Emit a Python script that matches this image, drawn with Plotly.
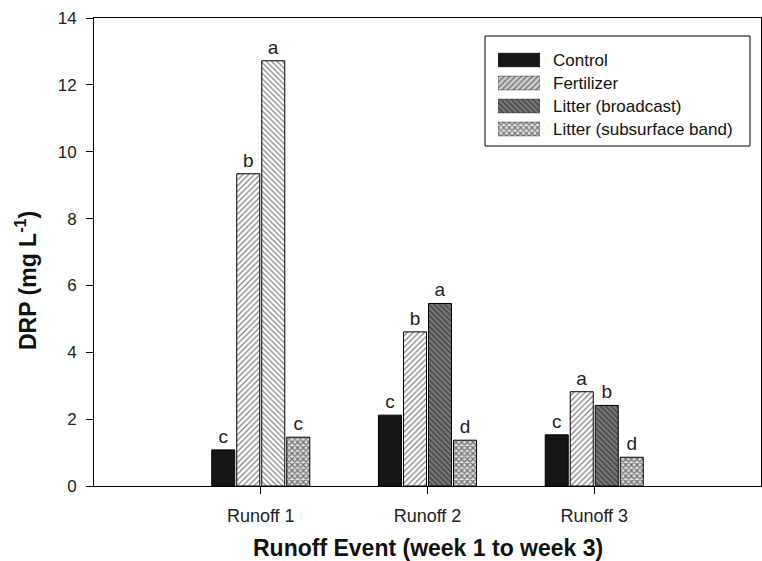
import plotly.graph_objects as go

# ---- data ----
events = ["Runoff 1", "Runoff 2", "Runoff 3"]
treatments = ["Control", "Fertilizer", "Litter (broadcast)", "Litter (subsurface band)"]
control = [1.08, 2.12, 1.53]
fertilizer = [9.34, 4.61, 2.82]
litter_broadcast = [12.72, 5.46, 2.41]
litter_subsurface = [1.46, 1.37, 0.86]
letters_control = ["c", "c", "c"]
letters_fertilizer = ["b", "b", "a"]
letters_broadcast = ["a", "a", "b"]
letters_subsurface = ["c", "d", "d"]
y_ticks = [0, 2, 4, 6, 8, 10, 12, 14]

values = [control, fertilizer, litter_broadcast, litter_subsurface]
letters = [letters_control, letters_fertilizer, letters_broadcast, letters_subsurface]

# ---- styles ----
W, H = 762, 561
L, R, T, B = 94, 1, 18, 75
PW, PH = W - L - R, H - T - B
def xp(px):
    return (px - L) / PW
def yp(py):
    return (H - B - py) / PH

FONT = "Liberation Sans, Arial, Helvetica, sans-serif"
styles = [
    dict(color="#161616", pattern=dict(shape="")),
    dict(color="white", pattern=dict(shape="/", fgcolor="black", bgcolor="white", size=4, solidity=0.3)),
    dict(color="white", pattern=dict(shape="\\", fgcolor="black",
                                      bgcolor=["white", "#777777", "#777777"], size=3.8, solidity=0.3)),
    dict(color="#dedede", pattern=dict(shape="x", fgcolor="black", bgcolor="#dedede", size=4, solidity=0.5)),
]
legend_bg = ["#161616", "#d0d0d0", "#777777", "#e6e6e6"]

fig = go.Figure()
for i, name in enumerate(treatments):
    st = styles[i]
    fig.add_trace(go.Bar(
        x=events, y=values[i], name=name, text=letters[i],
        textposition="outside", cliponaxis=False, constraintext="none",
        textfont=dict(family=FONT, size=19, color="#222"),
        marker=dict(color=st["color"], pattern=st["pattern"],
                    line=dict(color="black", width=1)),
        showlegend=False,
    ))

# custom legend swatches (wide rectangles) on an auxiliary axis pair
for i, name in enumerate(treatments):
    st = styles[i]
    pat = dict(st["pattern"])
    if "bgcolor" in pat:
        pat["bgcolor"] = legend_bg[i]
    fig.add_trace(go.Bar(
        x=[1], y=[i], base=[0], orientation="h", width=0.6,
        xaxis="x2", yaxis="y2", showlegend=False, hoverinfo="skip",
        marker=dict(color=legend_bg[i], pattern=pat, line=dict(color="#333", width=0.5)),
    ))
    fig.add_annotation(x=xp(551), y=i, xref="paper", yref="y2", text=name,
                       showarrow=False, xanchor="left", yanchor="middle",
                       font=dict(family=FONT, size=17, color="#111"))

fig.add_shape(type="rect", xref="paper", yref="paper",
              x0=xp(485), x1=xp(750), y0=yp(146), y1=yp(36),
              line=dict(color="black", width=1), fillcolor="rgba(0,0,0,0)")

fig.update_layout(
    width=W, height=H,
    margin=dict(l=L, r=R, t=T, b=B),
    paper_bgcolor="white", plot_bgcolor="white",
    barmode="group", bargap=0.40, bargroupgap=0.08,
    font=dict(family=FONT, size=17, color="#222"),
    xaxis=dict(range=[-1, 3], showline=True, linecolor="black", linewidth=1, mirror=True,
               ticks="outside", ticklen=7, tickcolor="black", showgrid=False, zeroline=False,
               tickfont=dict(size=18), ticklabelstandoff=6),
    yaxis=dict(range=[0, 14], tickvals=y_ticks, showline=True, linecolor="black", linewidth=1,
               mirror=True, ticks="outside", ticklen=7, tickcolor="black", showgrid=False,
               zeroline=False, tickfont=dict(size=17), ticklabelstandoff=6),
    xaxis2=dict(domain=[xp(498), xp(540)], range=[0, 1], anchor="y2", visible=False, fixedrange=True),
    yaxis2=dict(domain=[yp(140.5), yp(48.5)], range=[3.5, -0.5], anchor="x2", visible=False, fixedrange=True),
)

fig.add_annotation(x=xp(26), y=yp(281), xref="paper", yref="paper",
                   xanchor="center", yanchor="middle",
                   text="<b>DRP (mg L<sup>-1</sup>)</b>", textangle=-90, showarrow=False,
                   font=dict(family=FONT, size=23, color="#111"))
fig.add_annotation(x=xp(428), y=yp(548), xref="paper", yref="paper",
                   xanchor="center", yanchor="middle",
                   text="<b>Runoff Event (week 1 to week 3)</b>", showarrow=False,
                   font=dict(family=FONT, size=23, color="#111"))

fig.write_html("out.html")
